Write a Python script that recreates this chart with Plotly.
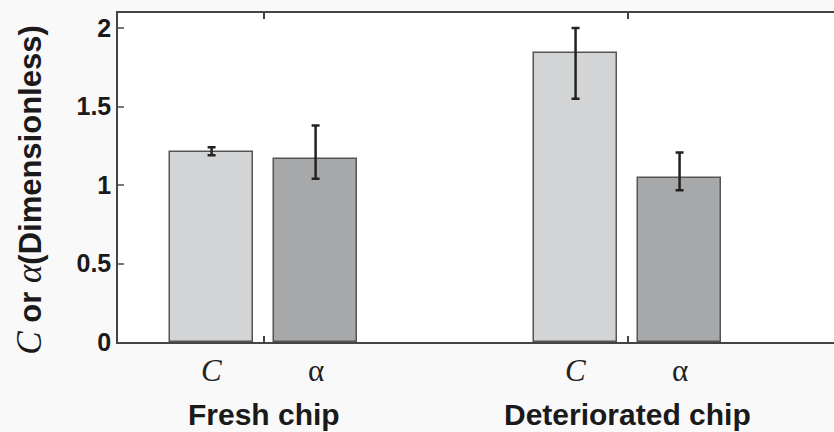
import plotly.graph_objects as go

# ---- data ----
groups = ["Fresh chip", "Deteriorated chip"]
params = ["C", "α"]
c_values = [1.21, 1.84]
c_err_plus = [0.03, 0.16]
c_err_minus = [0.02, 0.29]
alpha_values = [1.165, 1.047]
alpha_err_plus = [0.215, 0.16]
alpha_err_minus = [0.125, 0.08]
y_ticks = [0, 0.5, 1, 1.5, 2]
y_tick_labels = ["0", "0.5", "1", "1.5", "2"]

# ---- layout constants ----
group_pos = [0.5, 4.0]
bar_w = 0.8
sans = "Liberation Sans, Arial, sans-serif"
serif = "Liberation Serif, Times New Roman, serif"

fig = go.Figure()
series = [
    (params[0], c_values, c_err_plus, c_err_minus, "#d3d4d6", -0.5),
    (params[1], alpha_values, alpha_err_plus, alpha_err_minus, "#a6a8aa", 0.5),
]
for name, vals, ep, em, col, shift in series:
    fig.add_trace(go.Bar(
        x=group_pos, y=vals, name=name,
        width=bar_w, offset=shift - bar_w / 2,
        marker=dict(color=col, line=dict(color="#555555", width=1.5)),
        error_y=dict(type="data", symmetric=False, array=ep, arrayminus=em,
                     color="#222222", thickness=2.5, width=4),
        showlegend=False,
    ))

annotations = []
for g, gx in enumerate(group_pos):
    for p, shift in zip(params, [-0.5, 0.5]):
        txt = f"<i>{p}</i>" if p == "C" else p
        annotations.append(dict(
            x=gx + shift, y=0, xref="x", yref="paper", yanchor="middle",
            yshift=-28, text=txt, showarrow=False,
            font=dict(family=serif, size=31, color="#222222")))
    annotations.append(dict(
        x=gx, y=0, xref="x", yref="paper", yanchor="middle", yshift=-72,
        text=groups[g], showarrow=False,
        font=dict(family=sans, size=30, color="#1a1a1a", weight="bold")))

title_txt = (f"<span style='font-family:{serif};font-weight:normal;font-size:35px'><i>C</i></span>"
             " or "
             f"<span style='font-family:{serif};font-weight:normal;font-size:35px'><i>α</i></span>"
             "(Dimensionless)")
annotations.append(dict(
    x=0, y=0.46, xref="paper", yref="paper", xanchor="center", yanchor="middle",
    xshift=-88, textangle=-90, text=title_txt, showarrow=False,
    font=dict(family=sans, size=31, color="#1a1a1a", weight="bold")))

fig.update_layout(
    width=834, height=432,
    margin=dict(l=118, r=0, t=13, b=90),
    paper_bgcolor="#f9f9f9", plot_bgcolor="white",
    bargap=0, annotations=annotations,
    xaxis=dict(range=[-0.9, 5.985], showgrid=False, zeroline=False,
               showline=True, linecolor="#444444", linewidth=1.5, mirror="ticks",
               tickvals=group_pos, ticktext=["", ""], ticks="inside",
               ticklen=6, tickwidth=1.5, tickcolor="#444444"),
    yaxis=dict(range=[0, 2.096], showgrid=False, zeroline=False,
               showline=True, linecolor="#444444", linewidth=1.5,
               tickvals=y_ticks, ticktext=y_tick_labels, ticks="inside",
               ticklen=6, tickwidth=1.5, tickcolor="#777777",
               tickfont=dict(family=sans, size=25, color="#1a1a1a", weight="bold")),
)

fig.write_html("out.html")
